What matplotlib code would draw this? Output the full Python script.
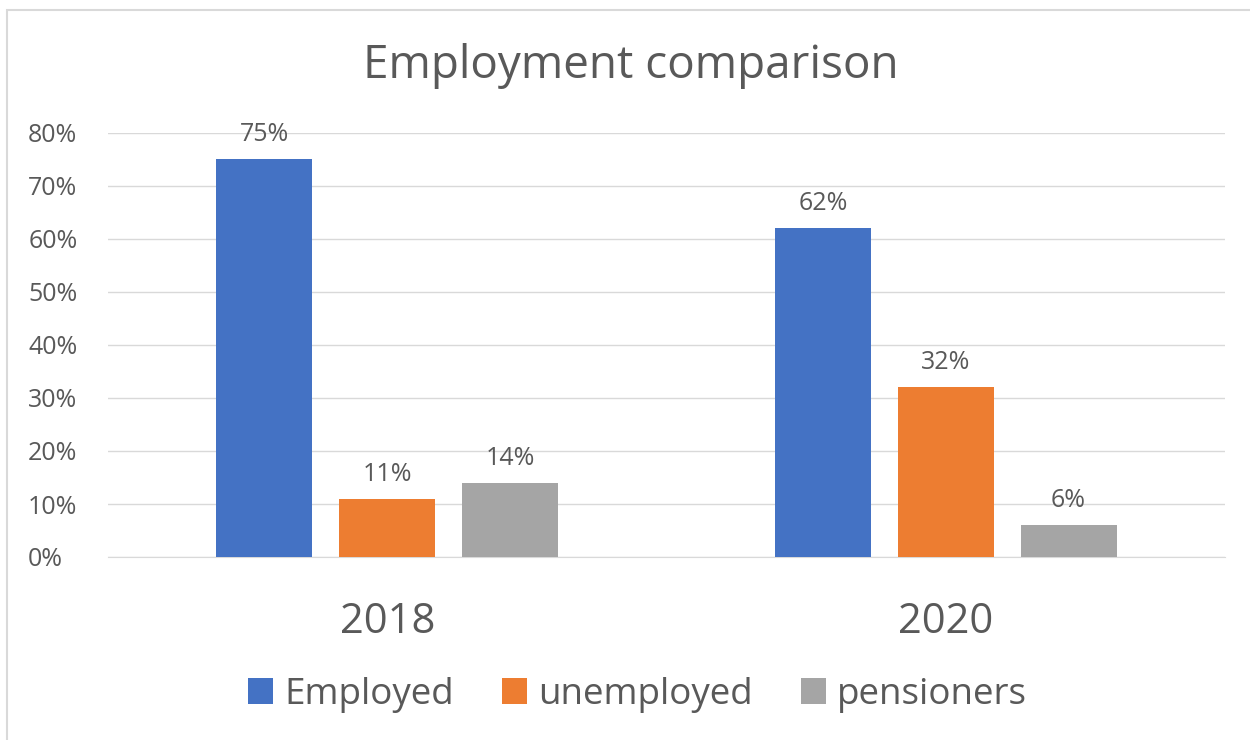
import matplotlib
matplotlib.use("Agg")
import matplotlib.pyplot as plt
import numpy as np
from matplotlib.patches import Rectangle

categories = ["2018", "2020"]
series_names = ["Employed", "unemployed", "pensioners"]
employed = [75, 62]
unemployed = [11, 32]
pensioners = [14, 6]
yticks = [0, 10, 20, 30, 40, 50, 60, 70, 80]

colors = ["#4472C4", "#ED7D31", "#A5A5A5"]
txt = "#595959"
plt.rcParams['font.family'] = ['Open Sans', 'DejaVu Sans']

fig = plt.figure(figsize=(12.5, 7.4), dpi=100)
fig.patches.append(Rectangle((7/1250, -0.1), 1.2, 1.1 - 10/740, transform=fig.transFigure,
                             fill=False, edgecolor="#D9D9D9", linewidth=1.5))
ax = fig.add_axes([108/1250, 1 - 557/740, (1225 - 108)/1250, (557 - 133)/740])

x = np.arange(len(categories))
width = 0.172
step = 0.22
for i, (vals, name) in enumerate(zip([employed, unemployed, pensioners], series_names)):
    pos = x + (i - 1) * step
    bars = ax.bar(pos, vals, width, color=colors[i], label=name, zorder=3)
    for b, v in zip(bars, vals):
        ax.text(b.get_x() + b.get_width()/2, v + 2.3, f"{v}%", ha="center", va="bottom",
                fontsize=18, color=txt)

ax.set_xlim(-0.5, 1.5)
ax.set_ylim(0, 80)
ax.set_yticks(yticks)
ax.set_yticklabels([f"{t}%" for t in yticks], fontsize=18, color=txt)
ax.set_xticks(x)
ax.set_xticklabels(categories, fontsize=30, color=txt)
ax.tick_params(axis='both', length=0)
ax.tick_params(axis='x', pad=32)
ax.tick_params(axis='y', pad=57.5)
for lab in ax.get_yticklabels():
    lab.set_horizontalalignment('left')
ax.yaxis.grid(True, color="#D9D9D9", linewidth=1, zorder=0)
for s in ["top", "right", "left"]:
    ax.spines[s].set_visible(False)
ax.spines["bottom"].set_color("#D9D9D9")

fig.text(0.505, 1 - 66/740, "Employment comparison", ha="center", va="center", fontsize=33, color=txt)

handles, labels = ax.get_legend_handles_labels()
fig.legend(handles, labels, loc="center", bbox_to_anchor=(0.51, 1 - 695/740), ncol=3,
           frameon=False, fontsize=26.5, handlelength=0.68, handleheight=0.68,
           handletextpad=0.3, columnspacing=1.3, labelcolor=txt)

fig.savefig("out.png", dpi=100)
